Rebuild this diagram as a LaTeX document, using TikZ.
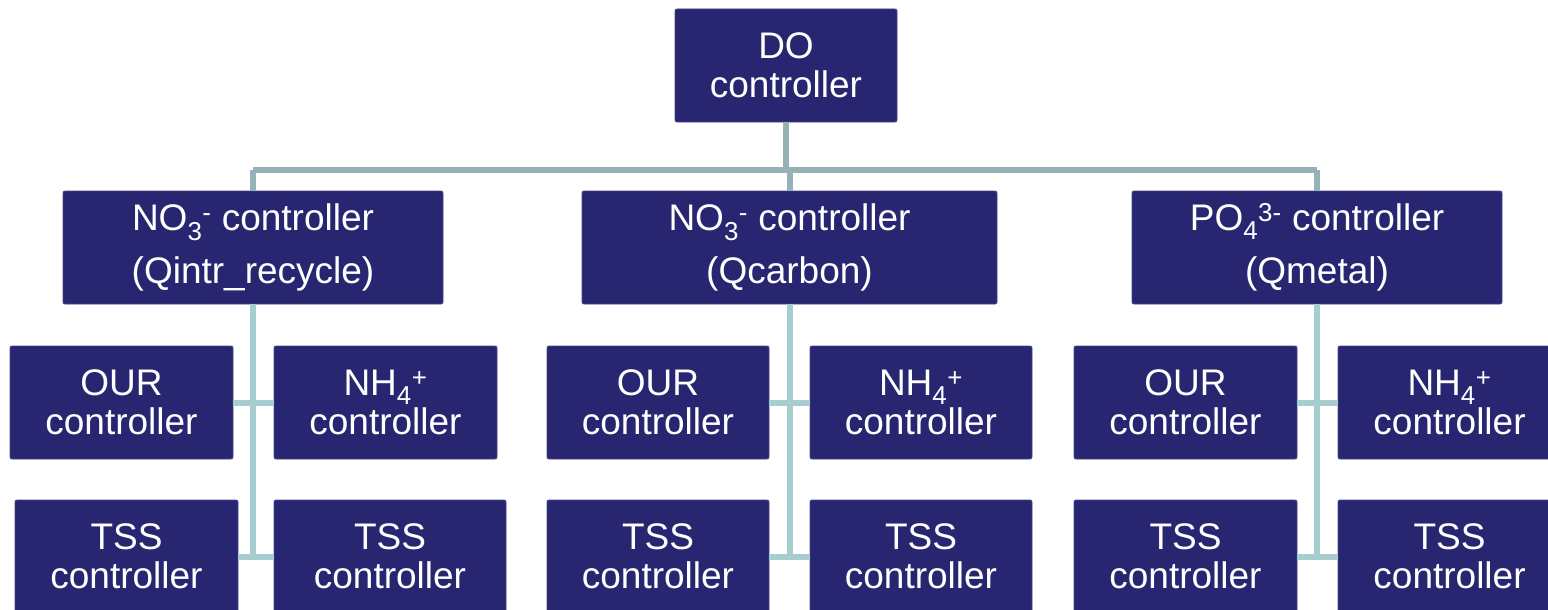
\documentclass[tikz,border=0pt]{standalone}
\usepackage{fontspec}
\setmainfont{Liberation Sans}
\definecolor{boxc}{RGB}{41,38,113}
\definecolor{edgec}{RGB}{70,68,140}
\definecolor{topline}{RGB}{149,179,183}
\definecolor{lowline}{RGB}{166,206,208}
\begin{document}
\begin{tikzpicture}[x=1pt,y=-1pt,
  ctl/.style={draw=edgec, line width=0.8pt, fill=boxc, text=white, rounded corners=2pt,
    inner sep=0pt, minimum height=113pt, align=center, font=\fontsize{37}{39}\selectfont},
  ctltwo/.style={ctl, font=\fontsize{37}{53}\selectfont},
  upl/.style={draw=topline, line width=6pt},
  lowl/.style={draw=lowline, line width=6pt}]
\useasboundingbox (0,0) rectangle (1548,610);
\clip (0,0) rectangle (1548,610);
\fill[white] (0,0) rectangle (1548,610);
\coordinate (bus) at (0,170);

% connectors (drawn first, behind boxes)
\node[ctl, minimum width=222pt] (do) at (786,65.5) {DO\\controller};
\node[ctltwo, minimum width=380pt] (n1) at (253,247.5) {NO\textsubscript{3}\textsuperscript{-} controller\\(Qintr\_recycle)};
\node[ctltwo, minimum width=415pt] (n2) at (789.5,247.5) {NO\textsubscript{3}\textsuperscript{-} controller\\(Qcarbon)};
\node[ctltwo, minimum width=370pt] (n3) at (1317,247.5) {PO\textsubscript{4}\textsuperscript{3-} controller\\(Qmetal)};

\node[ctl, minimum width=223pt] (a1) at (121.5,402.5) {OUR\\controller};
\node[ctl, minimum width=223pt] (a2) at (385.5,402.5) {NH\textsubscript{4}\textsuperscript{+}\\controller};
\node[ctl, minimum width=223pt] (b1) at (126.5,556.5) {TSS\\controller};
\node[ctl, minimum width=232pt] (b2) at (390,556.5) {TSS\\controller};

\node[ctl, minimum width=222pt] (c1) at (658,402.5) {OUR\\controller};
\node[ctl, minimum width=222pt] (c2) at (921,402.5) {NH\textsubscript{4}\textsuperscript{+}\\controller};
\node[ctl, minimum width=222pt] (d1) at (658,556.5) {TSS\\controller};
\node[ctl, minimum width=222pt] (d2) at (921,556.5) {TSS\\controller};

\node[ctl, minimum width=223pt] (e1) at (1185.5,402.5) {OUR\\controller};
\node[ctl, minimum width=223pt] (e2) at (1449.5,402.5) {NH\textsubscript{4}\textsuperscript{+}\\controller};
\node[ctl, minimum width=223pt] (f1) at (1185.5,556.5) {TSS\\controller};
\node[ctl, minimum width=223pt] (f2) at (1449.5,556.5) {TSS\\controller};

\begin{scope}[on background layer/.try]
\end{scope}
% top hierarchy lines
\draw[upl] (do.south) -- (do.south |- bus);
\draw[upl] (n1.north |- bus) -- (n3.north |- bus);
\draw[upl] (n1.north |- bus) -- (n1.north);
\draw[upl] (n2.north |- bus) -- (n2.north);
\draw[upl] (n3.north |- bus) -- (n3.north);
% lower lines
\draw[lowl] (n1.south) -- (n1.south |- b1.east);
\draw[lowl] (a1.east) -- (a2.west);
\draw[lowl] (b1.east) -- (b2.west);
\draw[lowl] (n2.south) -- (n2.south |- d1.east);
\draw[lowl] (c1.east) -- (c2.west);
\draw[lowl] (d1.east) -- (d2.west);
\draw[lowl] (n3.south) -- (n3.south |- f1.east);
\draw[lowl] (e1.east) -- (e2.west);
\draw[lowl] (f1.east) -- (f2.west);
\end{tikzpicture}
\end{document}
